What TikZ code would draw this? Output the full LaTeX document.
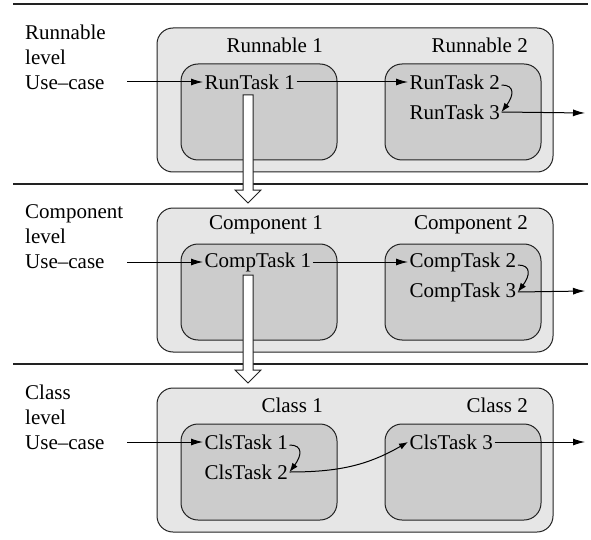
\documentclass[tikz,border=0pt]{standalone}
\usepackage{fontspec}
\setmainfont{Liberation Serif}
\usetikzlibrary{arrows.meta}
\definecolor{outerfill}{HTML}{E6E6E6}
\definecolor{innerfill}{HTML}{CCCCCC}
\definecolor{linec}{HTML}{222222}
\begin{document}
\begin{tikzpicture}[x=1pt,y=-1pt,
  every node/.style={font=\rmfamily\fontsize{21}{25}\selectfont},
  rule/.style={draw=linec,line width=1.3pt},
  outerbox/.style={draw=linec,line width=1pt,fill=outerfill,rounded corners=16pt,minimum width=396pt,minimum height=144pt,inner sep=0pt},
  innerbox/.style={draw=linec,line width=1pt,fill=innerfill,rounded corners=17pt,minimum width=156pt,minimum height=96pt,inner sep=0pt},
  task/.style={anchor=west,inner sep=1.5pt},
  title/.style={anchor=east,inner sep=0pt},
  lvl/.style={anchor=west,align=left,inner sep=0pt},
  arr/.style={draw=black,line width=1pt,-{Latex[length=12pt,width=7pt]}},
  carr/.style={draw=black,line width=1pt,-{Latex[length=9pt,width=6.5pt]}},
  hollow/.style={draw=linec,line width=1pt,fill=white}
]
\useasboundingbox (0,0) rectangle (591,540);
% rules
\draw[rule] (13,4) -- (588,4);
\draw[rule] (13,184) -- (588,184);
\draw[rule] (13,364) -- (588,364);

% ---------- Section 1 ----------
\node[outerbox] (o1) at (355,100) {};
\node[innerbox] (i1a) at (259,112) {};
\node[innerbox] (i1b) at (463,112) {};
\node[title] (t1a) at (323,45) {Runnable 1};
\node[title] (t1b) at (528,45) {Runnable 2};
\node[lvl] (l1) at (25,57) {Runnable\\level\\Use--case};
\coordinate (s1) at (127,82);
\coordinate (e1) at (585,113);
\node[task] (rt1) at (203,82) {RunTask 1};
\node[task] (rt2) at (408,82) {RunTask 2};
\node[task] (rt3) at (408,112) {RunTask 3};
\draw[arr] (s1) -- (rt1.west);
\draw[arr] (rt1.east) -- (rt2.west);
\draw[carr] ([yshift=-3pt]rt2.east) .. controls +(14,0) and +(12,-16) .. (rt3.east);
\draw[arr] (rt3.east) -- (e1);

% ---------- Section 2 ----------
\node[outerbox] (o2) at (355,280) {};
\node[innerbox] (i2a) at (259,292) {};
\node[innerbox] (i2b) at (463,292) {};
\node[title] (t2a) at (323,225) {Component 1};
\node[title] (t2b) at (528,225) {Component 2};
\node[lvl] (l2) at (25,237) {Component\\level\\Use--case};
\coordinate (s2) at (127,262);
\coordinate (e2) at (585,291);
\node[task] (ct1) at (203,262) {CompTask 1};
\node[task] (ct2) at (408,262) {CompTask 2};
\node[task] (ct3) at (408,292) {CompTask 3};
\draw[arr] (s2) -- (ct1.west);
\draw[arr] (ct1.east) -- (ct2.west);
\draw[carr] ([yshift=-3pt]ct2.east) .. controls +(14,0) and +(12,-16) .. (ct3.east);
\draw[arr] (ct3.east) -- (e2);

% ---------- Section 3 ----------
\node[outerbox] (o3) at (355,460) {};
\node[innerbox] (i3a) at (259,472) {};
\node[innerbox] (i3b) at (463,472) {};
\node[title] (t3a) at (323,405) {Class 1};
\node[title] (t3b) at (528,405) {Class 2};
\node[lvl] (l3) at (25,417) {Class\\level\\Use--case};
\coordinate (s3) at (127,442);
\coordinate (e3) at (585,442);
\node[task] (cl1) at (203,442) {ClsTask 1};
\node[task] (cl2) at (203,472) {ClsTask 2};
\node[task] (cl3) at (408,442) {ClsTask 3};
\draw[arr] (s3) -- (cl1.west);
\draw[carr] ([yshift=-3pt]cl1.east) .. controls +(14,0) and +(12,-16) .. (cl2.east);
\draw[carr] (cl2.east) to[out=0,in=210] (cl3.west);
\draw[arr] (cl3.east) -- (e3);

% hollow arrows between levels
\draw[hollow] (243,95) -- (253,95) -- (253,190) -- (261,190) -- (248,203) -- (235,190) -- (243,190) -- cycle;
\draw[hollow] (243,275) -- (253,275) -- (253,370) -- (261,370) -- (248,383) -- (235,370) -- (243,370) -- cycle;
\end{tikzpicture}
\end{document}
